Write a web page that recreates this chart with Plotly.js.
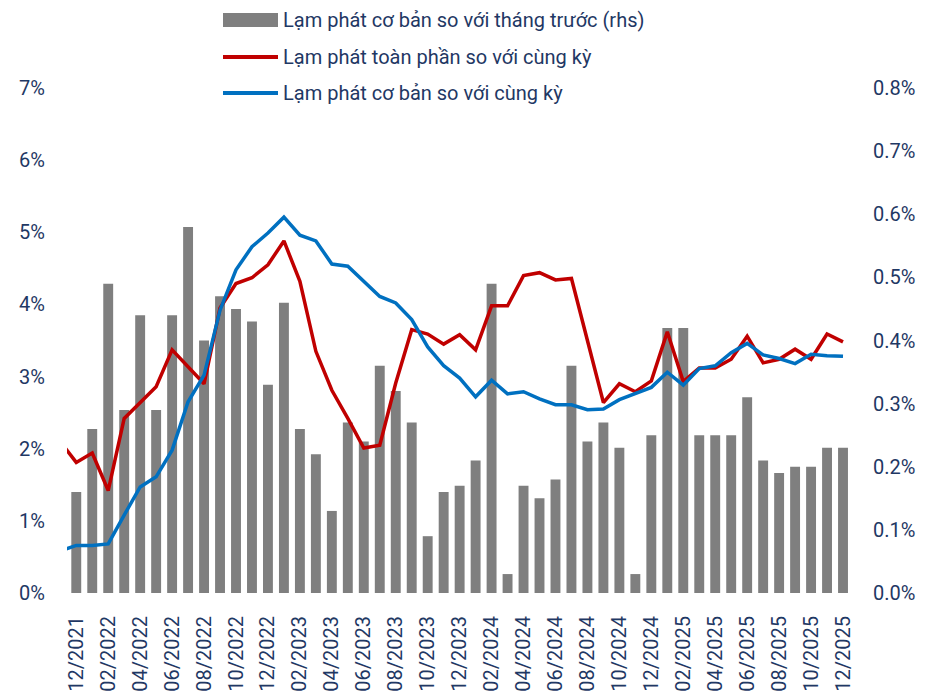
<!DOCTYPE html>
<html>
<head>
<meta charset="utf-8">
<script src="https://cdn.plot.ly/plotly-3.0.1.min.js"></script>
<style>html,body{margin:0;padding:0;background:#fff;}#chart{width:930px;height:697px;}</style>
</head>
<body>
<div id="chart"></div>
<script>
var months = ["11/2021","12/2021","01/2022","02/2022","03/2022","04/2022","05/2022","06/2022","07/2022","08/2022","09/2022","10/2022","11/2022","12/2022",
"01/2023","02/2023","03/2023","04/2023","05/2023","06/2023","07/2023","08/2023","09/2023","10/2023","11/2023","12/2023",
"01/2024","02/2024","03/2024","04/2024","05/2024","06/2024","07/2024","08/2024","09/2024","10/2024","11/2024","12/2024",
"01/2025","02/2025","03/2025","04/2025","05/2025","06/2025","07/2025","08/2025","09/2025","10/2025","11/2025","12/2025"];

var tickLabels = ["12/2021","02/2022","04/2022","06/2022","08/2022","10/2022","12/2022","02/2023","04/2023","06/2023","08/2023","10/2023","12/2023",
"02/2024","04/2024","06/2024","08/2024","10/2024","12/2024","02/2025","04/2025","06/2025","08/2025","10/2025","12/2025"];

// Core inflation, month over month (%), right axis
var coreMoM = [null,0.16,0.26,0.49,0.29,0.44,0.29,0.44,0.58,0.40,0.47,0.45,0.43,0.33,0.46,0.26,0.22,0.13,0.27,0.24,0.36,0.32,0.27,0.09,0.16,0.17,0.21,0.49,0.03,0.17,0.15,0.18,0.36,0.24,0.27,0.23,0.03,0.25,0.42,0.42,0.25,0.25,0.25,0.31,0.21,0.19,0.20,0.20,0.23,0.23];

// Headline inflation, year over year (%), left axis
var headlineYoY = [2.10,1.81,1.94,1.42,2.42,2.64,2.86,3.37,3.14,2.90,3.95,4.29,4.37,4.55,4.88,4.32,3.35,2.81,2.42,2.01,2.05,2.91,3.65,3.59,3.45,3.58,3.37,3.98,3.98,4.40,4.44,4.34,4.36,3.50,2.64,2.90,2.79,2.94,3.62,2.93,3.12,3.12,3.24,3.56,3.19,3.24,3.38,3.24,3.59,3.48];

// Core inflation, year over year (%), left axis
var coreYoY = [0.58,0.66,0.66,0.68,1.08,1.47,1.61,1.98,2.65,3.02,3.92,4.48,4.80,4.99,5.21,4.96,4.88,4.56,4.53,4.32,4.11,4.02,3.79,3.41,3.15,2.98,2.72,2.95,2.76,2.79,2.69,2.61,2.61,2.54,2.55,2.68,2.77,2.85,3.06,2.88,3.11,3.15,3.33,3.46,3.30,3.25,3.18,3.31,3.29,3.28];

var leftTicks = [0,1,2,3,4,5,6,7];
var leftText = ["0%","1%","2%","3%","4%","5%","6%","7%"];
var rightTicks = [0,0.1,0.2,0.3,0.4,0.5,0.6,0.7,0.8];
var rightText = ["0.0%","0.1%","0.2%","0.3%","0.4%","0.5%","0.6%","0.7%","0.8%"];

var legendNames = ["Lạm phát cơ bản so với tháng trước (rhs)","Lạm phát toàn phần so với cùng kỳ","Lạm phát cơ bản so với cùng kỳ"];

var NAVY = "#1F3864";
var FONT = "Roboto, 'Open Sans', sans-serif";

// bars on the primary (right-side) axis, lines on the overlaying (left-side) axis so lines draw on top
var traces = [
  {type:"bar", x:months, y:coreMoM, yaxis:"y", name:legendNames[0],
   marker:{color:"#7F7F7F"}},
  {type:"scatter", mode:"lines", x:months, y:headlineYoY, yaxis:"y2", name:legendNames[1],
   line:{color:"#C00000", width:3.5}},
  {type:"scatter", mode:"lines", x:months, y:coreYoY, yaxis:"y2", name:legendNames[2],
   line:{color:"#0070C0", width:3.5}}
];

var W = 784, H = 505;
function px(v){return (v-67)/W;}
function py(v){return (593-v)/H;}

var layout = {
  width:930, height:697,
  margin:{l:67, r:79, t:88, b:104},
  paper_bgcolor:"#fff", plot_bgcolor:"#fff",
  showlegend:false,
  bargap:0.38,
  font:{family:FONT, size:20, color:NAVY},
  xaxis:{type:"category", range:[0.42,49.5], tickmode:"array", tickvals:tickLabels, ticktext:tickLabels,
    tickangle:-90, showgrid:false, zeroline:false, showline:false, ticks:"outside", ticklen:14,
    tickcolor:"rgba(0,0,0,0)", tickfont:{family:FONT, size:20, color:NAVY}},
  yaxis:{range:[0,0.8], side:"right", tickmode:"array", tickvals:rightTicks, ticktext:rightText,
    showgrid:false, zeroline:false, showline:false, ticks:"outside", ticklen:17, tickcolor:"rgba(0,0,0,0)",
    tickfont:{family:FONT, size:20, color:NAVY}},
  yaxis2:{range:[0,7], overlaying:"y", side:"left", tickmode:"array", tickvals:leftTicks, ticktext:leftText,
    showgrid:false, zeroline:false, showline:false, ticks:"outside", ticklen:17, tickcolor:"rgba(0,0,0,0)",
    tickfont:{family:FONT, size:20, color:NAVY}},
  shapes:[
    {type:"rect", xref:"paper", yref:"paper", x0:px(223), x1:px(278), y0:py(27), y1:py(13), fillcolor:"#7F7F7F", line:{width:0}},
    {type:"line", xref:"paper", yref:"paper", x0:px(223), x1:px(278), y0:py(57), y1:py(57), line:{color:"#C00000", width:4}},
    {type:"line", xref:"paper", yref:"paper", x0:px(223), x1:px(278), y0:py(93), y1:py(93), line:{color:"#0070C0", width:4}}
  ],
  annotations:[
    {xref:"paper", yref:"paper", x:px(281), y:py(20), xanchor:"left", yanchor:"middle", showarrow:false, text:legendNames[0], font:{family:FONT, size:20, color:NAVY}},
    {xref:"paper", yref:"paper", x:px(281), y:py(57), xanchor:"left", yanchor:"middle", showarrow:false, text:legendNames[1], font:{family:FONT, size:20, color:NAVY}},
    {xref:"paper", yref:"paper", x:px(281), y:py(93), xanchor:"left", yanchor:"middle", showarrow:false, text:legendNames[2], font:{family:FONT, size:20, color:NAVY}}
  ]
};

Plotly.newPlot("chart", traces, layout, {displayModeBar:false, staticPlot:true});
</script>
</body>
</html>
